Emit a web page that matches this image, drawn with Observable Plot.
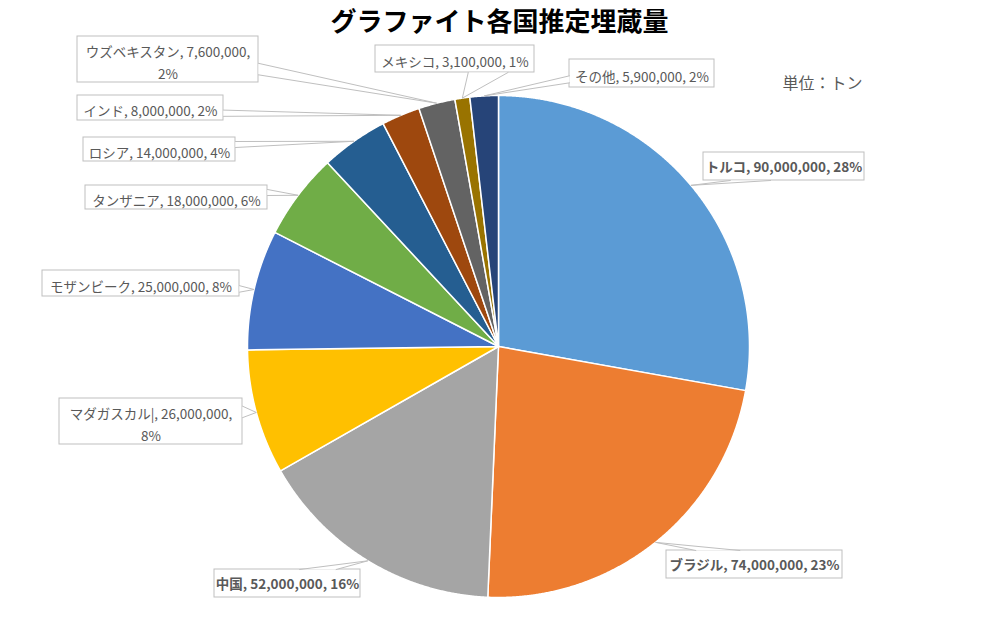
<!DOCTYPE html>
<html><head><meta charset="utf-8">
<script src="https://cdn.jsdelivr.net/npm/d3@7"></script>
<script src="https://cdn.jsdelivr.net/npm/@observablehq/plot@0.6"></script>
<style>
body{margin:0;background:#fff;}
#chart{width:985px;height:631px;}
</style>
</head><body><div id="chart"></div>
<script>
// ---- data ----
const countries = ["トルコ","ブラジル","中国","マダガスカル|","モザンビーク","タンザニア","ロシア","インド","ウズベキスタン","メキシコ","その他"];
const reserves  = [90000000,74000000,52000000,26000000,25000000,18000000,14000000,8000000,7600000,3100000,5900000];
const colors    = ["#5B9BD5","#ED7D31","#A5A5A5","#FFC000","#4472C4","#70AD47","#255E91","#9E480E","#636363","#997300","#264478"];
const boldNames = ["トルコ","ブラジル","中国"];
const titleText = "グラファイト各国推定埋蔵量";
const unitText  = "単位：トン";

// ---- layout (label box positions, px) ----
const labelBoxes = [
  {name:"トルコ",         x1:703, y1:152, x2:864, y2:180, wrap:false},
  {name:"ブラジル",       x1:666, y1:550, x2:842, y2:578, wrap:false},
  {name:"中国",           x1:214, y1:569, x2:360, y2:597, wrap:false},
  {name:"マダガスカル|",  x1:59,  y1:398, x2:242, y2:444, wrap:true},
  {name:"モザンビーク",   x1:42,  y1:270, x2:239, y2:296, wrap:false},
  {name:"タンザニア",     x1:85,  y1:185, x2:267, y2:209, wrap:false},
  {name:"ロシア",         x1:83,  y1:137, x2:235, y2:161, wrap:false},
  {name:"インド",         x1:77,  y1:95,  x2:223, y2:120, wrap:false},
  {name:"ウズベキスタン", x1:77,  y1:36,  x2:258, y2:82,  wrap:true},
  {name:"メキシコ",       x1:375, y1:45,  x2:534, y2:72,  wrap:false},
  {name:"その他",         x1:569, y1:59,  x2:714, y2:87,  wrap:false}
];
const W = 985, H = 631, cx = 498, cy = 346, R = 251;

// ---- derived ----
const data = countries.map((name,i)=>({name, value: reserves[i]}));
const total = d3.sum(reserves);
const arcs = d3.pie().sort(null).value(d=>d.value)(data);
const fmt = d3.format(",");

const slicePts = [];
for (const a of arcs) {
  slicePts.push({name:a.data.name, px:cx, py:cy});
  const n = Math.max(4, Math.ceil((a.endAngle - a.startAngle) / 0.004));
  for (let i = 0; i <= n; i++) {
    const ang = a.startAngle + (a.endAngle - a.startAngle) * i / n;
    slicePts.push({name:a.data.name, px: cx + R*Math.sin(ang), py: cy - R*Math.cos(ang)});
  }
}

const boxByName = new Map(labelBoxes.map(b=>[b.name,b]));
const wedgePts = [];
const labels = [];
for (const a of arcs) {
  const b = boxByName.get(a.data.name);
  const mid = (a.startAngle + a.endAngle)/2;
  const tip = {x: cx + R*Math.sin(mid), y: cy - R*Math.cos(mid)};
  const w = b.x2-b.x1, h = b.y2-b.y1, mx=(b.x1+b.x2)/2, my=(b.y1+b.y2)/2;
  const dx = (tip.x-mx)/w, dy = (tip.y-my)/h;
  let p1, p2;
  if (Math.abs(dx) >= Math.abs(dy)) {
    const xs = dx < 0 ? b.x1 : b.x2;
    const f = dy < 0 ? [2/12,5/12] : [7/12,10/12];
    p1 = {x:xs, y:b.y1+h*f[0]}; p2 = {x:xs, y:b.y1+h*f[1]};
  } else {
    const ys = dy < 0 ? b.y1 : b.y2;
    const f = dx < 0 ? [2/12,5/12] : [7/12,10/12];
    p1 = {x:b.x1+w*f[0], y:ys}; p2 = {x:b.x1+w*f[1], y:ys};
  }
  for (const p of [p1, tip, p2]) wedgePts.push({name:a.data.name, px:p.x, py:p.y});
  const pct = Math.round(a.data.value/total*100) + "%";
  const txt = b.wrap
    ? `${a.data.name}, ${fmt(a.data.value)},\n${pct}`
    : `${a.data.name}, ${fmt(a.data.value)}, ${pct}`;
  labels.push({name:a.data.name, text:txt, tx:mx, ty:my + 1, bold: boldNames.includes(a.data.name)});
}

const font = "'Noto Sans CJK JP','Noto Sans',sans-serif";

const chart = Plot.plot({
  width: W, height: H, margin: 0,
  x: {domain:[0,W], range:[0,W], axis:null},
  y: {domain:[0,H], range:[0,H], axis:null},
  color: {domain: countries, range: colors},
  style: {fontFamily: font, background: "#fff"},
  marks: [
    Plot.line(slicePts, {x:"px", y:"py", z:"name", fill:"name", stroke:"#fff", strokeWidth:1.5, curve:"linear-closed", strokeLinejoin:"round"}),
    Plot.rect(labelBoxes, {x1:"x1", x2:"x2", y1:"y1", y2:"y2", fill:"#fff", stroke:"#BFBFBF", strokeWidth:1}),
    Plot.line(wedgePts, {x:"px", y:"py", z:"name", fill:"#fff", stroke:"#BFBFBF", strokeWidth:1, curve:"linear"}),
    Plot.text(labels.filter(d=>!d.bold), {x:"tx", y:"ty", text:"text", fontSize:13.5, fill:"#595959", textAnchor:"middle", lineAnchor:"middle", lineHeight:1.65}),
    Plot.text(labels.filter(d=>d.bold), {x:"tx", y:"ty", text:"text", fontSize:13.5, fontWeight:"bold", fill:"#595959", textAnchor:"middle", lineAnchor:"middle"}),
    Plot.text([titleText], {x:()=>499, y:()=>22, text:d=>d, fontSize:26, fontWeight:"bold", fill:"#000", textAnchor:"middle", lineAnchor:"middle"}),
    Plot.text([unitText], {x:()=>822, y:()=>83, text:d=>d, fontSize:16, fill:"#595959", textAnchor:"middle", lineAnchor:"middle"})
  ]
});
document.getElementById("chart").appendChild(chart);
</script>
</body></html>
